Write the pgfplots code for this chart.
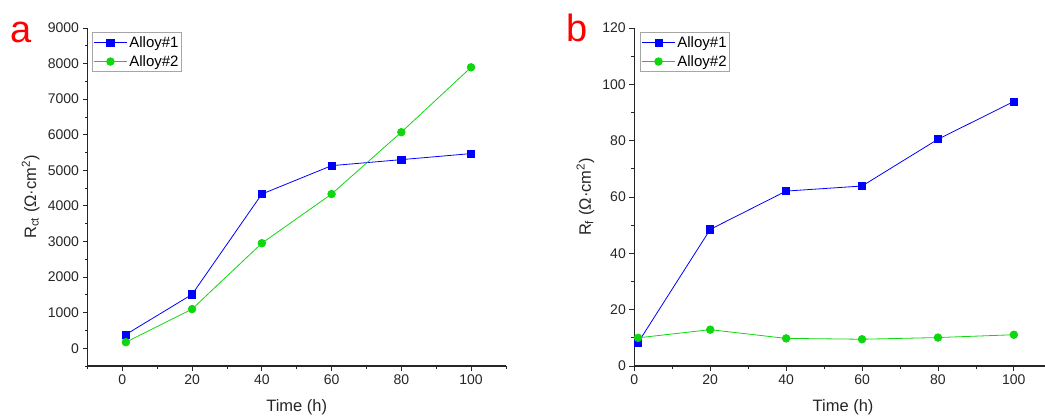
\documentclass[border=0pt]{standalone}
\usepackage{fontspec}
\setmainfont{Liberation Sans}
\usepackage{pgfplots}
\pgfplotsset{compat=1.18}
\definecolor{ablue}{RGB}{0,0,255}
\definecolor{agreen}{RGB}{15,215,15}

\pgfplotsset{
  panel/.style={
    scale only axis, height=338bp,
    axis x line*=bottom, axis y line*=left,
    axis line style={-, line width=1.3bp, black!85},
    tick align=outside, major tick length=5bp, minor tick length=3bp,
    tick style={line width=0.8bp, black!85},
    xtick={0,20,40,60,80,100},
    /pgf/number format/assume math mode=true,
    /pgf/number format/set thousands separator={},
    tick label style={font=\fontsize{14bp}{16bp}\selectfont, black!85},
    label style={font=\fontsize{16.5bp}{19bp}\selectfont, black!85},
    xlabel style={at={(axis description cs:0.5,0)}, anchor=center, yshift=-41.5bp},
    legend cell align=left,
    legend style={draw=gray!70, line width=0.9bp, fill=white, anchor=north west,
      font=\fontsize{15bp}{17bp}\selectfont, inner xsep=1bp, inner ysep=2bp,
      row sep=2.5bp, nodes={inner sep=2bp}},
    legend image code/.code={
      \draw[mark repeat=2, mark phase=2] plot coordinates {(0bp,0bp) (16.5bp,0bp) (33bp,0bp)};},
  },
  s1/.style={color=ablue, line width=0.8bp, mark=square*, mark size=3.6bp, mark options={fill=ablue, draw=ablue}},
  s2/.style={color=agreen, line width=0.8bp, mark=*, mark size=3.8bp, mark options={fill=agreen, draw=agreen}},
}

\begin{document}
\begin{tikzpicture}
\path[use as bounding box] (0,0) rectangle (1045bp,419bp);

\begin{axis}[panel, at={(87.5bp,53bp)}, anchor=south west, width=418.4bp,
  xmin=-10, xmax=110, ymin=-500, ymax=9000,
  ytick={0,1000,...,9000}, minor xtick={-10,10,30,50,70,90,110},
  minor ytick={-500,500,1500,2500,3500,4500,5500,6500,7500,8500},
  xlabel={Time (h)},
  ylabel={R\textsubscript{ct} (Ω·cm\textsuperscript{2})},
  ylabel style={at={(axis description cs:-0.136,0.5)}, anchor=center},
  legend style={at={(axis description cs:0.011,0.988)}},
]
\addplot+[s1] coordinates {(1,385) (20,1513) (40,4333) (60,5131) (80,5300) (100,5470)};
\addplot+[s2] coordinates {(1,169) (20,1100) (40,2951) (60,4333) (80,6071) (100,7895)};
\legend{Alloy\#1, Alloy\#2}
\end{axis}

\begin{axis}[panel, at={(634.3bp,53bp)}, anchor=south west, width=417.5bp,
  xmin=0, xmax=110, ymin=0, ymax=120,
  ytick={0,20,...,120}, minor xtick={10,30,50,70,90,110},
  minor ytick={10,30,50,70,90,110},
  xlabel={Time (h)},
  ylabel={R\textsubscript{f} (Ω·cm\textsuperscript{2})},
  ylabel style={at={(axis description cs:-0.117,0.5)}, anchor=center},
  legend style={at={(axis description cs:0.014,0.988)}},
]
\addplot+[s1] coordinates {(1,8.3) (20,48.5) (40,62.1) (60,63.9) (80,80.5) (100,93.9)};
\addplot+[s2] coordinates {(1,10.0) (20,12.9) (40,9.8) (60,9.5) (80,10.1) (100,11.1)};
\legend{Alloy\#1, Alloy\#2}
\end{axis}

\node[red, font=\fontsize{38bp}{40bp}\selectfont] at (21bp,387bp) {a};
\node[red, font=\fontsize{38bp}{40bp}\selectfont] at (577bp,391bp) {b};
\end{tikzpicture}
\end{document}
